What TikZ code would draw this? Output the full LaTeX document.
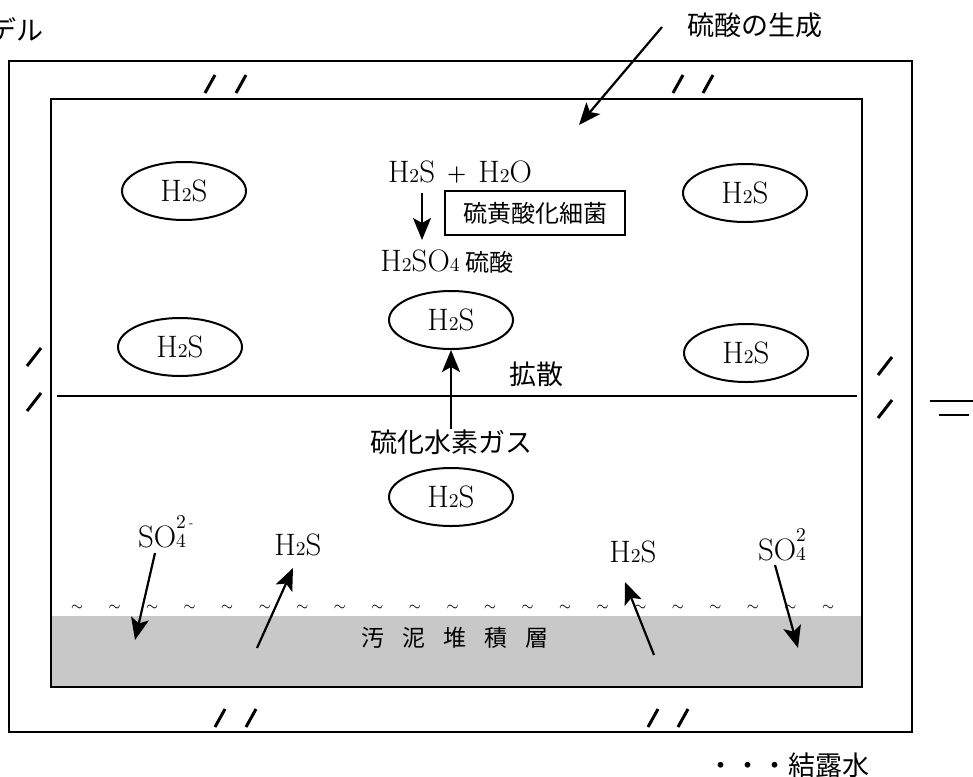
\documentclass[tikz,border=0pt]{standalone}
\usepackage{fontspec}
\usepackage{tikz}
\usetikzlibrary{arrows.meta,shapes.geometric}
\newfontfamily\jpfont{Noto Sans CJK JP}
\definecolor{sludgeGray}{RGB}{200,200,200}
\newcommand{\chemsize}{\fontsize{15.5}{18}\selectfont}
\newcommand{\sm}[1]{{\fontsize{9.8}{10}\selectfont #1}}
\newcommand{\hts}{H\sm{2}S}

\begin{document}
\begin{tikzpicture}[x=0.5pt,y=-0.5pt,
    every node/.style={inner sep=0pt},
    gas/.style={ellipse,draw,line width=1pt,minimum width=62pt,minimum height=29pt,font=\chemsize},
    jp/.style={font=\jpfont\fontsize{13.5}{16}\selectfont},
    flow/.style={line width=1.1pt,-{Stealth[length=11pt,width=9pt,inset=2.5pt]}},
    cut/.style={line width=1.5pt}]
    \useasboundingbox (0,0) rectangle (973,776);
    \clip (0,0) rectangle (973,776);

    % Frames
    \draw[line width=1pt] (9,61) rectangle (912,732);
    \fill[sludgeGray] (51,616) rectangle (862,687);
    \draw[line width=1pt] (51,99) rectangle (862,687);
    \draw[line width=1pt] (57,396) -- (857,396);
    \draw[line width=1pt] (930,401) -- (973,401);
    \draw[line width=1pt] (939,415) -- (969,415);

    % Break marks
    \foreach \x/\y/\w in {210/84/5, 241/84/5, 678/84/5, 708/84/5,
                          220/718/5, 251/718/5, 653/718/5, 683/718/5,
                          34/357/7, 34/402/7, 885/366/7, 885/409/7}
        \draw[cut] (\x-\w,\y+9) -- (\x+\w,\y-9);

    % Titles
    \node[jp,anchor=east] (title) at (44,30) {モデル};
    \node[jp] (acidtitle) at (755,25) {硫酸の生成};
    \coordinate (lead) at (662,27);
    \coordinate (leadtip) at (579,125);
    \draw[flow] (lead) -- (leadtip);

    % Reaction
    \node[font=\chemsize] (react) at (460,172)
        {\hts\hspace{6pt}\raisebox{1pt}{\fontsize{11}{12}\selectfont\bfseries +}\hspace{6pt}H\sm{2}O};
    \coordinate (rtop) at (422,193);
    \coordinate (rbot) at (422,240);
    \draw[flow] (rtop) -- (rbot);
    \node[draw,line width=1pt,minimum width=90pt,minimum height=22pt,
          font=\jpfont\fontsize{12}{14}\selectfont] (bact) at (535,213) {硫黄酸化細菌};
    \node[font=\chemsize] (acid) at (447,262) {H\sm{2}SO\sm{4}\hspace{3pt}{\jpfont\fontsize{12}{14}\selectfont 硫酸}};

    % Gas
    \node[gas] (g1) at (184,191) {\hts};
    \node[gas] (g2) at (745,193) {\hts};
    \node[gas] (g3) at (180,347) {\hts};
    \node[gas] (g4) at (451,320) {\hts};
    \node[gas] (g5) at (746,353) {\hts};
    \node[gas] (g6) at (451,497) {\hts};

    \node[jp] (diffuse) at (536,374) {拡散};
    \node[jp] (gasname) at (451,442) {硫化水素ガス};
    \draw[flow] (gasname.north) -- (g4.south);

    % Water surface
    \foreach \i in {0,...,20}
        \node[font=\fontsize{7}{8}\selectfont] (t\i) at ({77+37.55*\i},608) {$\sim$};

    % Sludge layer
    \node[font=\jpfont\fontsize{11.5}{13}\selectfont] (sludge) at (455,638)
        {汚\hspace{9pt}泥\hspace{9pt}堆\hspace{9pt}積\hspace{9pt}層};

    % Exchange with sludge
    \node[font=\chemsize] (so4l) at (162,532)
        {SO\sm{4}\llap{\raisebox{9.5pt}{\sm{2}}}\rlap{\raisebox{10.5pt}{\hspace{1.5pt}\fontsize{5}{5}\selectfont -}}};
    \node[font=\chemsize] (hsl) at (298,545) {\hts};
    \node[font=\chemsize] (hsr) at (633,552) {\hts};
    \node[font=\chemsize] (so4r) at (782,545) {SO\sm{4}\llap{\raisebox{9.5pt}{\sm{2}}}};

    \coordinate (a1) at (155,553); \coordinate (a1t) at (135,640);
    \coordinate (a2) at (257,648); \coordinate (a2t) at (293,568);
    \coordinate (a3) at (654,655); \coordinate (a3t) at (625,582);
    \coordinate (a4) at (775,565); \coordinate (a4t) at (798,648);
    \draw[flow] (a1) -- (a1t);
    \draw[flow] (a2) -- (a2t);
    \draw[flow] (a3) -- (a3t);
    \draw[flow] (a4) -- (a4t);

    % Legend
    \node[jp,anchor=east] (legend) at (870,765) {・・・結露水};
\end{tikzpicture}
\end{document}
